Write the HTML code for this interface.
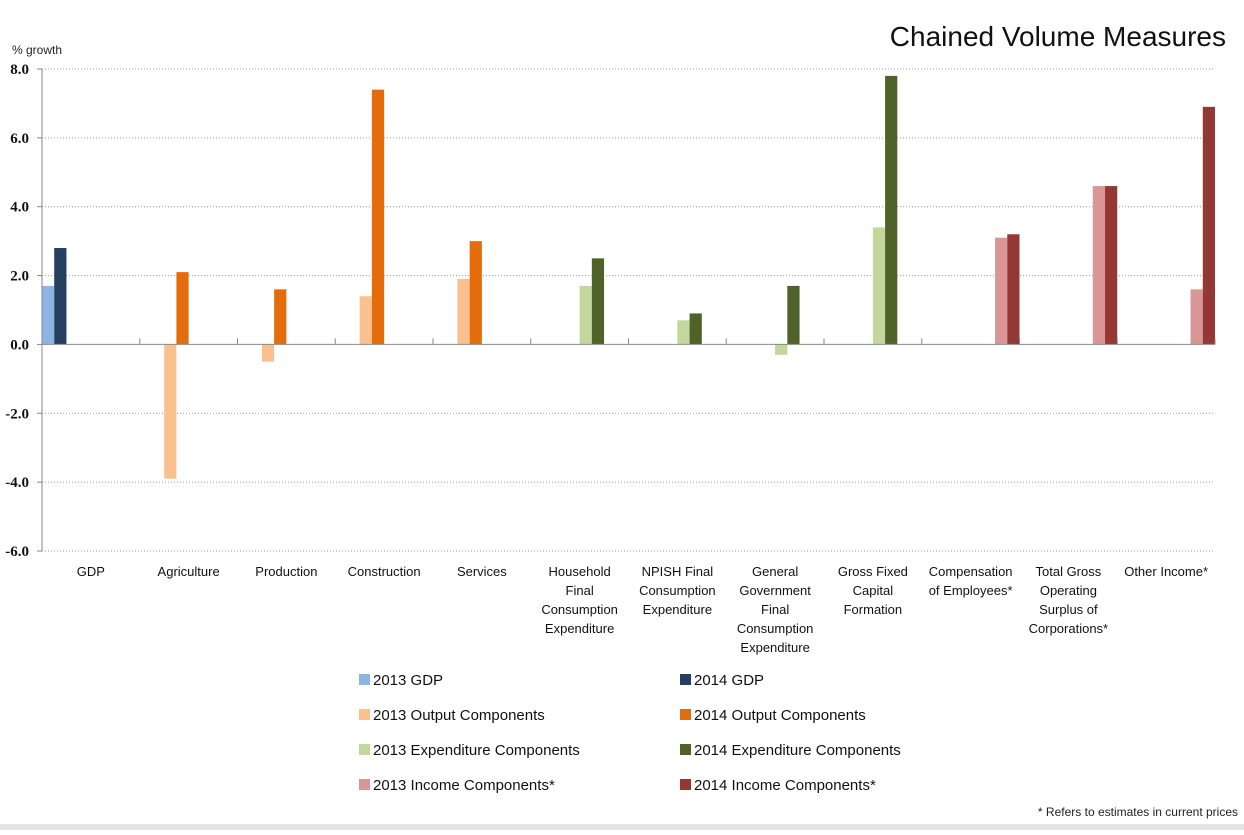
<!DOCTYPE html>
<html><head><meta charset="utf-8"><style>
body{margin:0;background:#fff;}
svg text{font-family:"Liberation Sans",sans-serif;}
</style></head><body>
<svg width="1244" height="830" xmlns="http://www.w3.org/2000/svg">
<rect x="0" y="824" width="1244" height="6" fill="#e4e4e4"/>
<text x="1226" y="46" font-size="28" text-anchor="end" fill="#111">Chained Volume Measures</text>
<text x="12" y="54" font-size="12" fill="#222">% growth</text>
<g id="grid"></g><g id="bars"></g><g id="axes"></g><g id="cats"></g><g id="legend"></g>
<text x="1238" y="816" font-size="12" text-anchor="end" fill="#222">* Refers to estimates in current prices</text>
</svg>
<script>
const categories=[["GDP"],["Agriculture"],["Production"],["Construction"],["Services"],["Household","Final","Consumption","Expenditure"],["NPISH Final","Consumption","Expenditure"],["General","Government","Final","Consumption","Expenditure"],["Gross Fixed","Capital","Formation"],["Compensation","of Employees*"],["Total Gross","Operating","Surplus of","Corporations*"],["Other Income*"]];
const values2013=[1.7,-3.9,-0.5,1.4,1.9,1.7,0.7,-0.3,3.4,3.1,4.6,1.6];
const values2014=[2.8,2.1,1.6,7.4,3.0,2.5,0.9,1.7,7.8,3.2,4.6,6.9];
const groupOf=[0,1,1,1,1,2,2,2,2,3,3,3];
const seriesNames=["2013 GDP","2014 GDP","2013 Output Components","2014 Output Components","2013 Expenditure Components","2014 Expenditure Components","2013 Income Components*","2014 Income Components*"];
const colors=["#8db4e2","#243f60","#fac090","#e46c0a","#c3d69b","#4f6228","#d99694","#953735"];
const yTicks=[8,6,4,2,0,-2,-4,-6];
const NS="http://www.w3.org/2000/svg";
const X0=42,X1=1215,Y8=69,Y6=551;
const y=v=>Y8+(8-v)*(Y6-Y8)/14;
const cw=(X1-X0)/categories.length;
function mk(p,t,a){const e=document.createElementNS(NS,t);for(const k in a)e.setAttribute(k,a[k]);document.getElementById(p).appendChild(e);return e;}
yTicks.forEach(t=>{
 if(t!==0){const g=mk('grid','line',{x1:X0,x2:X1,y1:y(t),y2:y(t),stroke:'#999','stroke-dasharray':'1,2'});
 
 }
 const tk=mk('axes','line',{x1:X0-5,x2:X0,y1:y(t),y2:y(t),stroke:'#888'});
 
 
 const l=mk('axes','text',{x:29,y:y(t)+5,'font-size':15,style:'font-family:"Liberation Serif",serif;font-weight:bold',fill:'#111','text-anchor':'end'});
 l.textContent=t.toFixed(1);
 
 
});
categories.forEach((c,i)=>{
 const g=groupOf[i];const x=X0+i*cw;const bw=cw/8;
 [values2013[i],values2014[i]].forEach((v,j)=>{
  const s=g*2+j;const bx=x+s*bw;
  const r=mk('bars','rect',{x:bx,y:Math.min(y(v),y(0)),width:bw,height:Math.abs(y(v)-y(0)),fill:colors[s]});
  
  
 });
 const tk=mk('axes','line',{x1:x+cw,x2:x+cw,y1:y(0)-6,y2:y(0),stroke:'#888'});
 
 
 c.forEach((ln,k)=>{
  const t=mk('cats','text',{x:x+cw/2,y:576+k*19,'font-size':13,'text-anchor':'middle',fill:'#111'});
  t.textContent=ln;
  
  
 });
});
const ax=mk('axes','line',{x1:X0,x2:X0,y1:Y8,y2:Y6,stroke:'#888'});


const zx=mk('axes','line',{x1:X0,x2:X1,y1:y(0),y2:y(0),stroke:'#888'});


seriesNames.forEach((n,i)=>{
 const lx=i%2?680:359, ly=680+Math.floor(i/2)*35;
 const r=mk('legend','rect',{x:lx,y:ly-6,width:11,height:11,fill:colors[i]});
 
 
 const t=mk('legend','text',{x:lx+14,y:ly+5,'font-size':15,fill:'#111'});
 t.textContent=n;
 
 
});
</script>
</body></html>
